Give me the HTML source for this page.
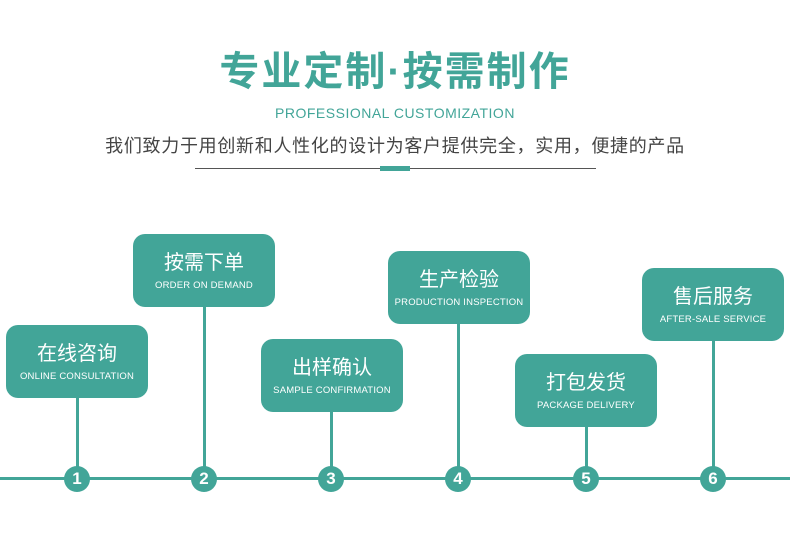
<!DOCTYPE html><html><head><meta charset="utf-8"><style>
body{margin:0;width:790px;height:556px;background:#fff;position:relative;overflow:hidden;font-family:"Liberation Sans","Noto Sans CJK SC",sans-serif}
.a{position:absolute}
.t{left:0;width:790px;text-align:center}
.box{position:absolute;width:142px;height:73px;background:#42a598;border-radius:12px;color:#fff;text-align:center}
.box b{display:block;font-weight:normal;font-size:20px;margin-top:17px;line-height:24px}
.box i{display:block;font-style:normal;font-size:9.5px;margin-top:5px;letter-spacing:.2px}
.st{position:absolute;width:3px;background:#42a598}
.c{position:absolute;width:26px;height:26px;border-radius:50%;background:#42a598;color:#fff;font-weight:bold;font-size:17px;line-height:26px;text-align:center;top:466px}
</style></head><body>
<div class="a t" style="top:46px;font-size:40px;font-weight:bold;color:#42a598;letter-spacing:2px;line-height:52px">专业定制·按需制作</div>
<div class="a t" style="top:105px;font-size:14px;color:#42a598;letter-spacing:.5px">PROFESSIONAL CUSTOMIZATION</div>
<div class="a t" style="top:134px;font-size:18px;color:#444;line-height:24px;letter-spacing:.7px">我们致力于用创新和人性化的设计为客户提供完全，实用，便捷的产品</div>
<div class="a" style="left:195px;top:168px;width:401px;height:1px;background:#555"></div>
<div class="a" style="left:380px;top:166px;width:30px;height:5px;background:#42a598"></div>
<div class="a" style="left:0;top:477px;width:790px;height:3px;background:#42a598"></div>
<div class="box" style="left:6px;top:325px"><b>在线咨询</b><i>ONLINE CONSULTATION</i></div>
<div class="box" style="left:133px;top:234px"><b>按需下单</b><i>ORDER ON DEMAND</i></div>
<div class="box" style="left:261px;top:339px"><b>出样确认</b><i>SAMPLE CONFIRMATION</i></div>
<div class="box" style="left:388px;top:251px"><b>生产检验</b><i>PRODUCTION INSPECTION</i></div>
<div class="box" style="left:515px;top:354px"><b>打包发货</b><i>PACKAGE DELIVERY</i></div>
<div class="box" style="left:642px;top:268px"><b>售后服务</b><i>AFTER-SALE SERVICE</i></div>
<div class="st" style="left:76px;top:398px;height:80px"></div>
<div class="st" style="left:203px;top:307px;height:171px"></div>
<div class="st" style="left:330px;top:412px;height:66px"></div>
<div class="st" style="left:457px;top:324px;height:154px"></div>
<div class="st" style="left:585px;top:427px;height:51px"></div>
<div class="st" style="left:712px;top:341px;height:137px"></div>
<div class="c" style="left:64px">1</div>
<div class="c" style="left:191px">2</div>
<div class="c" style="left:318px">3</div>
<div class="c" style="left:445px">4</div>
<div class="c" style="left:573px">5</div>
<div class="c" style="left:700px">6</div>
</body></html>
